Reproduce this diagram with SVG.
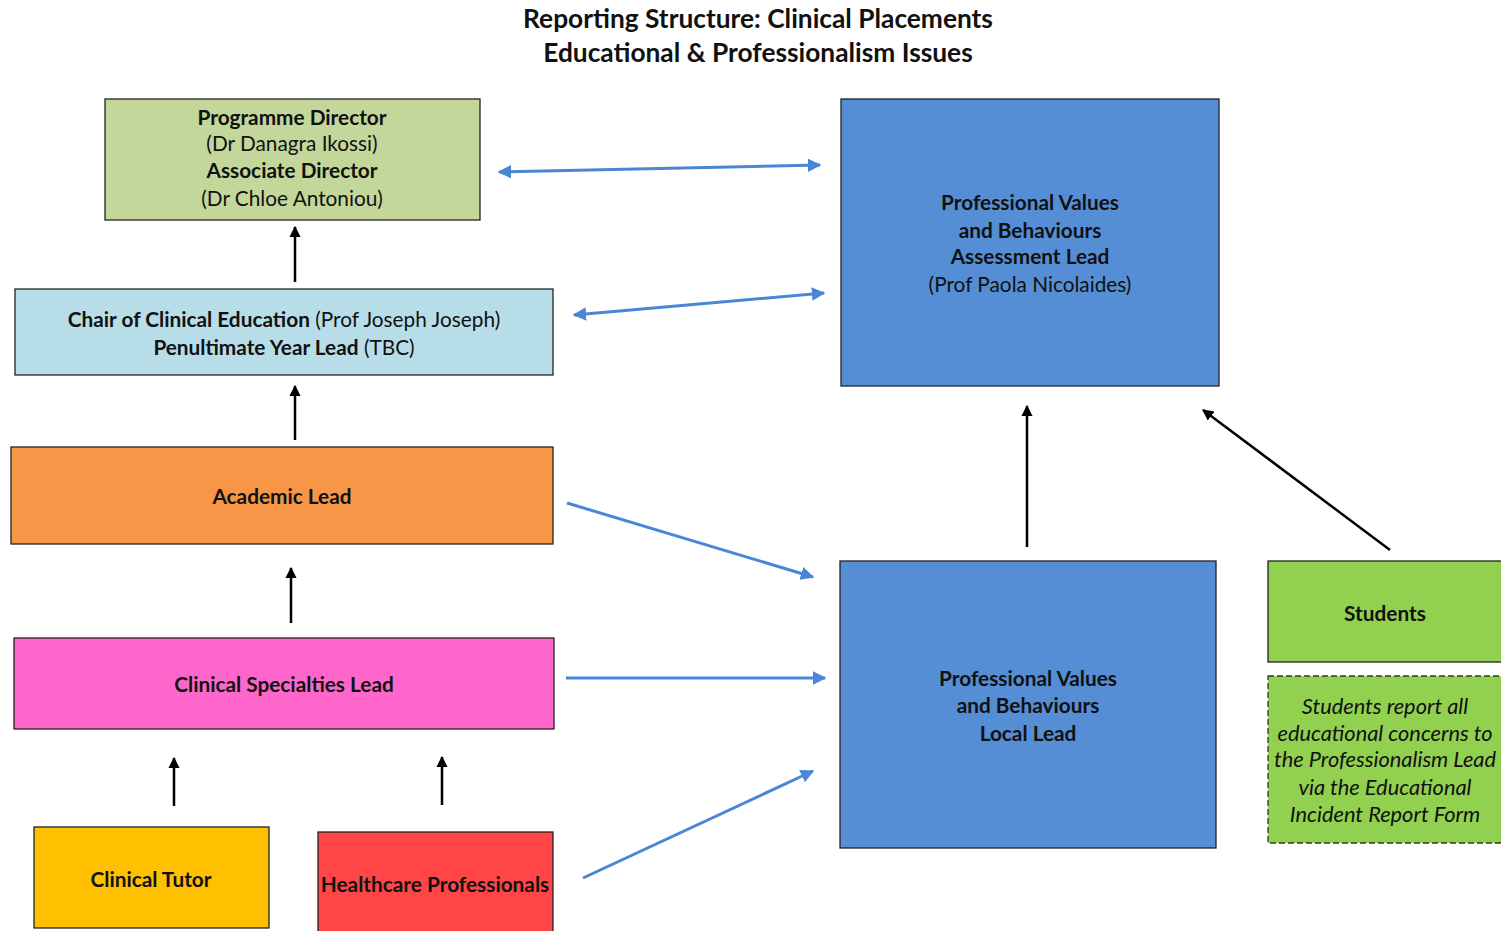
<svg xmlns="http://www.w3.org/2000/svg" width="1501" height="931" viewBox="0 0 1501 931">
<defs>
<marker id="bh" viewBox="0 0 10 10" refX="9" refY="5" markerWidth="4.5" markerHeight="4.5" orient="auto-start-reverse"><path d="M0,0 L10,5 L0,10 z" fill="#4A86D4"/></marker>
<marker id="kh" viewBox="0 0 10 10" refX="9" refY="5" markerWidth="4.5" markerHeight="4.5" orient="auto"><path d="M0,0 L10,5 L0,10 z" fill="#000"/></marker>
<style>
text{font-family:Lato,"Liberation Sans",sans-serif;fill:#111;text-anchor:middle;dominant-baseline:central;font-size:20.8px}
.b{font-weight:bold}
.t{font-size:26.3px;font-weight:bold}
.i{font-style:italic;font-size:21.8px}
.box{stroke:#222;stroke-width:1.3}
.blue{stroke:#4A86D4;stroke-width:3;fill:none}
.blk{stroke:#000;stroke-width:2.5;fill:none}
</style>
</defs>
<rect width="1501" height="931" fill="#fff"/>
<g id="title">
<text class="t" x="758" y="18">Reporting Structure: Clinical Placements</text>
<text class="t" x="758" y="52">Educational &amp; Professionalism Issues</text>
</g>
<g id="programme-director">
<rect class="box" x="105" y="99" width="375" height="121" fill="#C4D79B"/>
<text class="b" x="292" y="116">Programme Director</text>
<text x="292" y="142">(Dr Danagra Ikossi)</text>
<text class="b" x="292" y="169">Associate Director</text>
<text x="292" y="197">(Dr Chloe Antoniou)</text>
</g>
<g id="chair">
<rect class="box" x="15" y="289" width="538" height="86" fill="#B7DEE8"/>
<text x="284" y="318"><tspan class="b">Chair of Clinical Education</tspan> (Prof Joseph Joseph)</text>
<text x="284" y="346"><tspan class="b">Penultimate Year Lead</tspan> (TBC)</text>
</g>
<g id="academic-lead">
<rect class="box" x="11" y="447" width="542" height="97" fill="#F79646"/>
<text class="b" x="282" y="495">Academic Lead</text>
</g>
<g id="clinical-specialties-lead">
<rect class="box" x="14" y="638" width="540" height="91" fill="#FF66CC"/>
<text class="b" x="284" y="683">Clinical Specialties Lead</text>
</g>
<g id="clinical-tutor">
<rect class="box" x="34" y="827" width="235" height="101" fill="#FFC000"/>
<text class="b" x="151" y="878">Clinical Tutor</text>
</g>
<g id="healthcare-professionals">
<rect class="box" x="318" y="832" width="235" height="104" fill="#FF4545"/>
<text class="b" x="435" y="883">Healthcare Professionals</text>
</g>
<g id="pvb-assessment-lead">
<rect class="box" x="841" y="99" width="378" height="287" fill="#558ED5"/>
<text class="b" x="1030" y="201">Professional Values</text>
<text class="b" x="1030" y="229">and Behaviours</text>
<text class="b" x="1030" y="255">Assessment Lead</text>
<text x="1030" y="283">(Prof Paola Nicolaides)</text>
</g>
<g id="pvb-local-lead">
<rect class="box" x="840" y="561" width="376" height="287" fill="#558ED5"/>
<text class="b" x="1028" y="677">Professional Values</text>
<text class="b" x="1028" y="704">and Behaviours</text>
<text class="b" x="1028" y="732">Local Lead</text>
</g>
<g id="students">
<rect class="box" x="1268" y="561" width="240" height="101" fill="#92D050"/>
<text class="b" x="1385" y="612">Students</text>
</g>
<g id="students-note">
<rect x="1268" y="676" width="240" height="167" fill="#92D050" stroke="#333" stroke-width="1.3" stroke-dasharray="6,3"/>
<text class="i" x="1385" y="705">Students report all</text>
<text class="i" x="1385" y="732">educational concerns to</text>
<text class="i" x="1385" y="758">the Professionalism Lead</text>
<text class="i" x="1385" y="786">via the Educational</text>
<text class="i" x="1385" y="813">Incident Report Form</text>
</g>
<g id="connectors">
<line class="blue" x1="499" y1="172" x2="820" y2="165" marker-start="url(#bh)" marker-end="url(#bh)"/>
<line class="blue" x1="574" y1="315" x2="824" y2="293" marker-start="url(#bh)" marker-end="url(#bh)"/>
<line class="blue" x1="567" y1="503" x2="813" y2="577" marker-end="url(#bh)"/>
<line class="blue" x1="566" y1="678" x2="825" y2="678" marker-end="url(#bh)"/>
<line class="blue" x1="583" y1="878" x2="813" y2="771" marker-end="url(#bh)"/>
<line class="blk" x1="295" y1="282" x2="295" y2="227" marker-end="url(#kh)"/>
<line class="blk" x1="295" y1="440" x2="295" y2="386" marker-end="url(#kh)"/>
<line class="blk" x1="291" y1="623" x2="291" y2="568" marker-end="url(#kh)"/>
<line class="blk" x1="174" y1="806" x2="174" y2="758" marker-end="url(#kh)"/>
<line class="blk" x1="442" y1="805" x2="442" y2="757" marker-end="url(#kh)"/>
<line class="blk" x1="1027" y1="547" x2="1027" y2="406" marker-end="url(#kh)"/>
<line class="blk" x1="1390" y1="550" x2="1203" y2="410" marker-end="url(#kh)"/>
</g>
</svg>
